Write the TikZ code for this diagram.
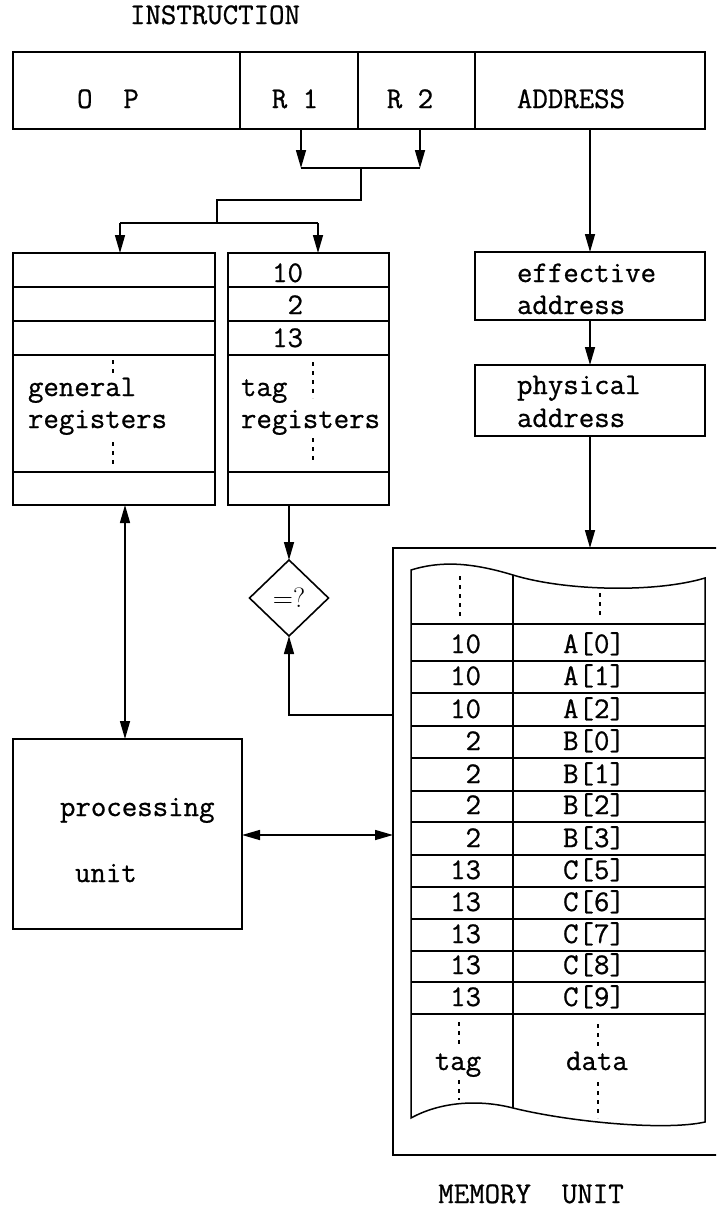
\documentclass[tikz,border=0pt]{standalone}
\usepackage{fontspec}
\newfontfamily\typefont{Latin Modern Mono}[FakeBold=0.8]
\usetikzlibrary{arrows.meta,shapes.geometric}
\begin{document}
\begin{tikzpicture}[x=1pt,y=-1pt,
  every node/.style={font=\typefont\fontsize{30}{32}\selectfont, inner sep=0pt, outer sep=0pt},
  frame/.style={draw, line width=1.6pt, rectangle, anchor=north west},
  rule/.style={line width=1.5pt},
  dots/.style={line width=1.8pt, dash pattern=on 4pt off 5pt},
  arr/.style={line width=1.5pt, -{Triangle[length=18pt,width=10pt]}},
  biarr/.style={line width=1.5pt, {Triangle[length=18pt,width=10pt]}-{Triangle[length=18pt,width=10pt]}},
  txt/.style={anchor=base west},
  ]
\fill[white] (0,0) rectangle (716,1208);
\useasboundingbox (0,0) rectangle (716,1208);
\clip (0,0) rectangle (716,1208);

% instruction word
\node[anchor=base] (ttl) at (215,24) {INSTRUCTION};
\node[frame, minimum width=227pt, minimum height=77pt] (op)   at (13,52)  {};
\node[frame, minimum width=118pt, minimum height=77pt] (r1)   at (240,52) {};
\node[frame, minimum width=117pt, minimum height=77pt] (r2)   at (358,52) {};
\node[frame, minimum width=230pt, minimum height=77pt] (addr) at (475,52) {};
\node[anchor=base] (lop)   at (108,108) {O\ \ P};
\node[anchor=base] (lr1)   at (295,108) {R 1};
\node[anchor=base] (lr2)   at (410,108) {R 2};
\node[anchor=base] (laddr) at (571,108) {ADDRESS};

% register files
\node[frame, minimum width=202pt, minimum height=252pt] (genreg) at (13,253)  {};
\node[frame, minimum width=161pt, minimum height=252pt] (tagreg) at (228,253) {};
\foreach \yy in {287,321,355,472} {
  \draw[rule] (13,\yy) -- (215,\yy);
  \draw[rule] (228,\yy) -- (389,\yy);
}
\node[txt] (gen1) at (28,396)  {general};
\node[txt] (gen2) at (28,428)  {registers};
\node[txt] (tag1) at (241,396) {tag};
\node[txt] (tag2) at (241,428) {registers};
\node[anchor=base east] (tv1) at (303,282) {10};
\node[anchor=base east] (tv2) at (303,314) {2};
\node[anchor=base east] (tv3) at (303,347) {13};
\draw[dots] (113,360) -- (113,376);
\draw[dots] (113,442) -- (113,468);
\draw[dots] (313,362) -- (313,398);
\draw[dots] (313,438) -- (313,463);

% address translation
\node[frame, minimum width=230pt, minimum height=68pt] (eff)  at (475,252) {};
\node[frame, minimum width=230pt, minimum height=71pt] (phys) at (475,365) {};
\node[txt] (eff1)  at (517,282) {effective};
\node[txt] (eff2)  at (517,314) {address};
\node[txt] (phys1) at (517,394) {physical};
\node[txt] (phys2) at (517,427) {address};

% comparator
\node[draw, line width=1.6pt, diamond, minimum width=79pt, minimum height=76pt,
      font=\rmfamily\fontsize{28}{30}\selectfont] (cmp) at (289,598) {=?};

% processing unit
\node[frame, minimum width=229pt, minimum height=190pt] (pu) at (13,739) {};
\node[txt] (pu1) at (60,816) {processing};
\node[txt] (pu2) at (75,882) {unit};

% memory unit
\node[frame, minimum width=340pt, minimum height=607pt] (mem) at (393,548) {};
\draw[rule] (411,570) .. controls (440,561) and (470,562) .. (513,575)
  .. controls (565,591) and (655,593) .. (705,578) -- (705,1122)
  .. controls (665,1131) and (570,1122) .. (513,1108)
  .. controls (478,1099) and (440,1102) .. (411,1118) -- cycle;
\draw[rule] (513,575) -- (513,1108);
\foreach \yy in {624,661,693,726,758,791,822,855,887,919,951,982,1014}
  \draw[rule] (411,\yy) -- (705,\yy);
\foreach \t/\d/\b [count=\i] in {10/A[0]/653,10/A[1]/685,10/A[2]/718,2/B[0]/750,
    2/B[1]/783,2/B[2]/814,2/B[3]/847,13/C[5]/879,13/C[6]/911,13/C[7]/943,
    13/C[8]/974,13/C[9]/1006} {
  \node[anchor=base east] (mt\i) at (481,\b) {\t};
  \node[anchor=base] (md\i) at (594,\b) {\d};
}
\draw[dots] (460,576) -- (460,618);
\draw[dots] (600,593) -- (600,618);
\draw[dots] (459,1022) -- (459,1048);
\draw[dots] (459,1080) -- (459,1100);
\draw[dots] (598,1024) -- (598,1048);
\draw[dots] (598,1082) -- (598,1118);
\node[anchor=base] (mtag)  at (458,1070) {tag};
\node[anchor=base] (mdata) at (597,1070) {data};
\node[anchor=base] (mttl)  at (531,1203) {MEMORY\ \ UNIT};

% register selection paths
\coordinate (jR) at (361,168);
\coordinate (jG) at (120,223);
\coordinate (jT) at (318,223);
\draw[arr] ([xshift=2pt]r1.south) -- ([xshift=2pt]r1.south |- jR);
\draw[arr] ([xshift=3.5pt]r2.south) -- ([xshift=3.5pt]r2.south |- jR);
\draw[rule] ([xshift=2pt]r1.south |- jR) -- ([xshift=3.5pt]r2.south |- jR);
\draw[rule] (jR) -- (361,200) -- (217,200) -- (217,223);
\draw[rule] (jG) -- (jT);
\draw[arr] (jG) -- (jG |- genreg.north);
\draw[arr] (jT) -- (jT |- tagreg.north);

% address path
\draw[arr] (addr.south) -- (eff.north);
\draw[arr] (eff.south) -- (phys.north);
\draw[arr] (phys.south) -- (phys.south |- mem.north);

% data paths
\coordinate (gx) at (125,0);
\draw[biarr] (genreg.south -| gx) -- (pu.north -| gx);
\draw[arr] (tagreg.south -| cmp.north) -- (cmp.north);
\coordinate (tap) at (393,715);
\draw[arr] (mem.west |- tap) -| (cmp.south);
\coordinate (pmy) at (0,835);
\draw[biarr] (pu.east |- pmy) -- (mem.west |- pmy);
\end{tikzpicture}
\end{document}
